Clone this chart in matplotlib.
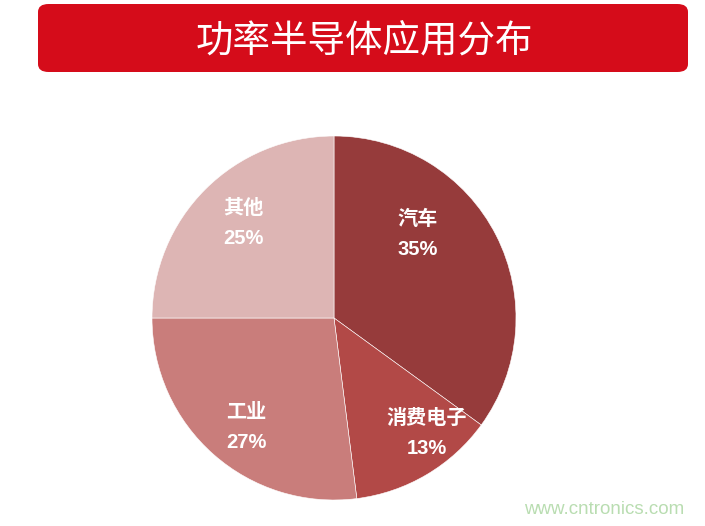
import matplotlib.pyplot as plt
from matplotlib.patches import FancyBboxPatch

plt.rcParams['font.family'] = ['Noto Sans CJK SC', 'DejaVu Sans']

title = "功率半导体应用分布"
categories = ["汽车", "消费电子", "工业", "其他"]
shares = [35, 13, 27, 25]
colors = ["#963B3B", "#B24947", "#C97D7B", "#DDB5B4"]
# label centers, in units of the pie radius
label_pos = [(0.46, 0.46), (0.51, -0.63), (-0.48, -0.60), (-0.50, 0.52)]

fig = plt.figure(figsize=(7.05, 5.26), dpi=100)

# title bar
bar = FancyBboxPatch((38 / 705, 1 - 72 / 526), 650 / 705, 68 / 526,
                     boxstyle="round,pad=0,rounding_size=0.015",
                     transform=fig.transFigure, facecolor="#D50C1A",
                     edgecolor="none")
fig.patches.append(bar)
fig.text(364 / 705, 1 - 42 / 526, title, color="white", fontsize=27,
         ha="center", va="center")

ax = fig.add_axes([(334 - 182) / 705, (526 - 500) / 526, 364 / 705, 364 / 526])
ax.pie(shares, colors=colors, startangle=90, counterclock=False, radius=1,
       wedgeprops=dict(edgecolor="white", linewidth=0.4))
ax.set_xlim(-1, 1)
ax.set_ylim(-1, 1)
ax.set_aspect("equal")
ax.axis("off")

for name, val, (x, y) in zip(categories, shares, label_pos):
    ax.text(x, y + 0.085, name, color="white", fontsize=14.5, fontweight="bold",
            ha="center", va="center")
    ax.text(x, y - 0.085, f"{val}%", color="white", fontsize=14.5,
            fontweight="bold", ha="center", va="center",
            family=["Liberation Sans", "DejaVu Sans"])

fig.text(604 / 705, 1 - 509 / 526, "www.cntronics.com", color="#B9DDB1",
         fontsize=13.5, ha="center", va="center",
         family=["Liberation Sans", "DejaVu Sans"])

fig.savefig("out.png", dpi=100, facecolor="white")
